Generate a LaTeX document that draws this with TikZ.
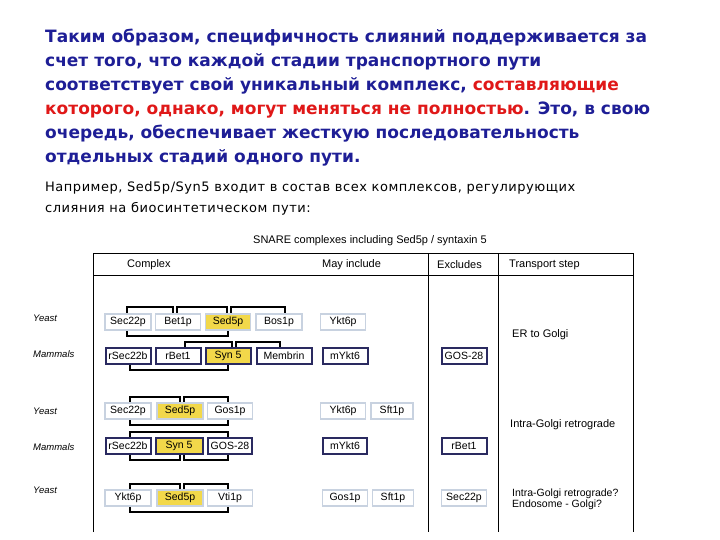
\documentclass[tikz,border=0pt]{standalone}
\usepackage{fontspec}
\setmainfont{DejaVu Sans}
\newfontfamily\tabfont{Liberation Sans}
\newfontfamily\widefont[LetterSpace=4]{DejaVu Sans}
\begin{document}
\begin{tikzpicture}[x=1pt,y=-1pt,
  ru/.style={anchor=base west,inner sep=0pt,font=\bfseries\fontsize{17}{20}\selectfont,text=rublue},
  yb/.style={draw=ylw,line width=1.6pt,fill=white,minimum height=16pt,inner sep=0pt,font=\tabfont\fontsize{10.5}{12}\selectfont},
  mb/.style={draw=navy,line width=2pt,fill=white,minimum height=16pt,inner sep=0pt,font=\tabfont\fontsize{10.5}{12}\selectfont},
  hl/.style={fill=yellowf},
  br/.style={line width=1.4pt},
  lab/.style={anchor=west,inner sep=0pt,font=\tabfont\itshape\fontsize{9.5}{11}\selectfont},
  tt/.style={anchor=west,inner sep=0pt,font=\tabfont\fontsize{11}{12}\selectfont}]
\definecolor{rublue}{HTML}{1E1E96}
\definecolor{rured}{HTML}{E01818}
\definecolor{ylw}{HTML}{C8D2E0}
\definecolor{navy}{HTML}{2A2A60}
\definecolor{yellowf}{HTML}{F2D84A}
\useasboundingbox (0,0) rectangle (720,540);
\fill[white] (0,0) rectangle (720,540);
% text
\node[ru] (l1) at (45,43) {Таким образом, специфичность слияний поддерживается за};
\node[ru] (l2) at (45,67) {счет того, что каждой стадии транспортного пути};
\node[ru] (l3) at (45,91) {соответствует свой уникальный комплекс, \textcolor{rured}{составляющие}};
\node[ru] (l4) at (45,115) {\textcolor{rured}{которого, однако, могут меняться не полностью}. Это, в свою};
\node[ru] (l5) at (45,139) {очередь, обеспечивает жесткую последовательность};
\node[ru] (l6) at (45,163) {отдельных стадий одного пути.};
\node[anchor=base west,inner sep=0pt,font=\widefont\fontsize{13}{14}\selectfont] (p1) at (45,192) {Например, Sed5p/Syn5 входит в состав всех комплексов, регулирующих};
\node[anchor=base west,inner sep=0pt,font=\widefont\fontsize{13}{14}\selectfont] (p2) at (45,212) {слияния на биосинтетическом пути:};
% table
\node[font=\tabfont\fontsize{11}{12}\selectfont] (ttl) at (370,241) {SNARE complexes including Sed5p / syntaxin 5};
\draw[line width=1pt] (93,532) -- (93,253) -- (633,253) -- (633,532);
\draw[line width=1pt] (93,275) -- (633,275);
\draw[line width=1pt] (428,253) -- (428,532);
\draw[line width=1pt] (498,253) -- (498,532);
\node[tt] (h1) at (127,265) {Complex};
\node[tt] (h2) at (322,265) {May include};
\node[tt] (h3) at (437,265) {Excludes};
\node[tt] (h4) at (509,265) {Transport step};
\node[tt] (s1) at (512,335) {ER to Golgi};
\node[tt] (s2) at (510,425) {Intra-Golgi retrograde};
\node[tt,align=left,font=\tabfont\fontsize{10.5}{11}\selectfont] (s3) at (512,499) {Intra-Golgi retrograde?\\Endosome - Golgi?};
\node[lab] (y1) at (33,318) {Yeast};
\node[lab] (m1) at (33,354) {Mammals};
\node[lab] (y2) at (33,411) {Yeast};
\node[lab] (m2) at (33,447) {Mammals};
\node[lab] (y3) at (33,490) {Yeast};
% brackets
\draw[br] (127,314) |- (173,307) -- (173,314);
\draw[br] (177,314) |- (227,307) -- (227,314);
\draw[br] (231,314) |- (285,307) -- (285,314);
\draw[br] (127,330) |- (228,336) -- (228,330);
\draw[br] (185,348) |- (232,342) -- (232,348);
\draw[br] (236,348) |- (280,342) -- (280,348);
\draw[br] (130,364) |- (228,370) -- (228,364);
\draw[br] (130,403) |- (180,397) -- (180,403);
\draw[br] (184,403) |- (228,397) -- (228,403);
\draw[br] (130,419) |- (228,425) -- (228,419);
\draw[br] (130,438) |- (228,432) -- (228,438);
\draw[br] (130,454) |- (180,460) -- (180,454);
\draw[br] (184,454) |- (228,460) -- (228,454);
\draw[br] (130,490) |- (180,484) -- (180,490);
\draw[br] (184,490) |- (228,484) -- (228,490);
\draw[br] (130,506) |- (228,512) -- (228,506);
% row 1
\node[yb,minimum width=46pt] (a1) at (128,322) {Sec22p};
\node[yb,minimum width=45pt] (a2) at (178,322) {Bet1p};
\node[yb,hl,minimum width=45pt] (a3) at (228,322) {Sed5p};
\node[yb,minimum width=46pt] (a4) at (279,322) {Bos1p};
\node[yb,minimum width=45pt] (a5) at (343,322) {Ykt6p};
% row 2
\node[mb,minimum width=45pt] (b1) at (128,356) {rSec22b};
\node[mb,minimum width=45pt] (b2) at (178,356) {rBet1};
\node[mb,hl,minimum width=45pt] (b3) at (228,356) {Syn 5};
\node[mb,minimum width=55pt] (b4) at (284,356) {Membrin};
\node[mb,minimum width=45pt] (b5) at (345,356) {mYkt6};
\node[mb,minimum width=45pt] (b6) at (464,356) {GOS-28};
% row 3
\node[yb,minimum width=46pt] (c1) at (128,411) {Sec22p};
\node[yb,hl,minimum width=46pt] (c2) at (180,411) {Sed5p};
\node[yb,minimum width=45pt] (c3) at (230,411) {Gos1p};
\node[yb,minimum width=45pt] (c4) at (343,411) {Ykt6p};
\node[yb,minimum width=42pt] (c5) at (392,411) {Sft1p};
% row 4
\node[mb,minimum width=45pt] (d1) at (128,446) {rSec22b};
\node[mb,hl,minimum width=47pt] (d2) at (179,446) {Syn 5};
\node[mb,minimum width=44pt] (d3) at (230,446) {GOS-28};
\node[mb,minimum width=44pt] (d4) at (345,446) {mYkt6};
\node[mb,minimum width=45pt] (d5) at (464,446) {rBet1};
% row 5
\node[yb,minimum width=46pt] (e1) at (128,498) {Ykt6p};
\node[yb,hl,minimum width=46pt] (e2) at (180,498) {Sed5p};
\node[yb,minimum width=45pt] (e3) at (230,498) {Vti1p};
\node[yb,minimum width=45pt] (e4) at (345,498) {Gos1p};
\node[yb,minimum width=41pt] (e5) at (393,498) {Sft1p};
\node[yb,minimum width=45pt] (e6) at (464,498) {Sec22p};
\end{tikzpicture}
\end{document}
